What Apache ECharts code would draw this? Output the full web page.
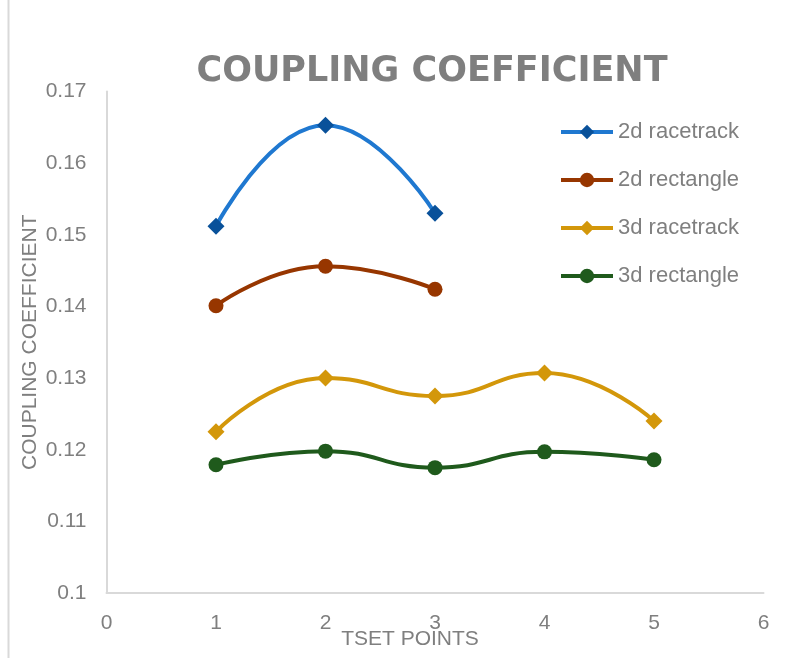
<!DOCTYPE html>
<html>
<head>
<meta charset="utf-8">
<script src="https://cdn.jsdelivr.net/npm/echarts@6/dist/echarts.min.js"></script>
<style>
  html, body { margin: 0; padding: 0; background: #ffffff; }
  #chart { width: 797px; height: 658px; }
</style>
</head>
<body>
<div id="chart"></div>
<script>
// Test point index (x) and measured coupling coefficient per configuration
const testPoints = [1, 2, 3, 4, 5];
const racetrack2d = [0.1512, 0.1653, 0.1530];
const rectangle2d = [0.1401, 0.1456, 0.1424];
const racetrack3d = [0.1225, 0.1300, 0.1275, 0.1307, 0.1240];
const rectangle3d = [0.1179, 0.1198, 0.1175, 0.1197, 0.1186];

const seriesNames = ['2d racetrack', '2d rectangle', '3d racetrack', '3d rectangle'];
const xTicks = [0, 1, 2, 3, 4, 5, 6];
const yTicks = [0.1, 0.11, 0.12, 0.13, 0.14, 0.15, 0.16, 0.17];

const gray = '#7f7f7f';

function pairs(values) {
  return values.map((v, i) => [testPoints[i], v]);
}

function lineSeries(name, values, lineColor, markColor, symbol, size) {
  return {
    name: name,
    type: 'line',
    data: pairs(values),
    smooth: 0.5,
    symbol: symbol,
    symbolSize: size,
    lineStyle: { color: lineColor, width: 4 },
    itemStyle: { color: markColor },
    emphasis: { disabled: true }
  };
}

const chart = echarts.init(document.getElementById('chart'));
chart.setOption({
  animation: false,
  backgroundColor: '#ffffff',
  title: {
    text: 'COUPLING COEFFICIENT',
    left: 427,
    top: 49,
    textAlign: 'center',
    textStyle: {
      fontFamily: 'DejaVu Sans',
      fontWeight: 'bold',
      fontSize: 35,
      color: gray
    }
  },
  legend: {
    orient: 'vertical',
    left: 559,
    top: 121,
    padding: 0,
    itemWidth: 52,
    itemHeight: 18,
    itemGap: 26,
    data: seriesNames,
    lineStyle: { width: 4 },
    textStyle: {
      fontFamily: 'Liberation Sans',
      fontSize: 22,
      lineHeight: 22,
      color: gray
    }
  },
  grid: {
    left: 106.5,
    right: 33.5,
    top: 91.5,
    bottom: 65,
    containLabel: false,
    outerBoundsMode: 'none'
  },
  xAxis: {
    type: 'value',
    min: xTicks[0],
    max: xTicks[xTicks.length - 1],
    interval: 1,
    name: 'TSET POINTS',
    nameLocation: 'middle',
    nameGap: 36,
    nameMoveOverlap: false,
    nameTextStyle: {
      fontFamily: 'Liberation Sans',
      fontSize: 21,
      color: gray,
      padding: [0, 50, 0, 0]
    },
    axisLine: { show: true, lineStyle: { color: '#d9d9d9', width: 2 } },
    axisTick: { show: false },
    splitLine: { show: false },
    axisLabel: {
      margin: 20,
      fontFamily: 'Liberation Sans',
      fontSize: 21,
      color: gray
    }
  },
  yAxis: {
    type: 'value',
    min: yTicks[0],
    max: yTicks[yTicks.length - 1],
    interval: 0.01,
    name: 'COUPLING COEFFICIENT',
    nameLocation: 'middle',
    nameGap: 66,
    nameMoveOverlap: false,
    nameRotate: 90,
    nameTextStyle: {
      fontFamily: 'Liberation Sans',
      fontSize: 21,
      color: gray
    },
    axisLine: { show: true, lineStyle: { color: '#d9d9d9', width: 2 } },
    axisTick: { show: false },
    splitLine: { show: false },
    axisLabel: {
      margin: 20,
      fontFamily: 'Liberation Sans',
      fontSize: 21,
      color: gray,
      formatter: v => String(Math.round(v * 100) / 100)
    }
  },
  graphic: [{
    type: 'line',
    shape: { x1: 8.5, y1: 0, x2: 8.5, y2: 658 },
    style: { stroke: '#d9d9d9', lineWidth: 2 },
    silent: true
  }],
  series: [
    lineSeries(seriesNames[0], racetrack2d, '#1f78d0', '#09519a', 'diamond', 17),
    lineSeries(seriesNames[1], rectangle2d, '#973600', '#973600', 'circle', 15),
    lineSeries(seriesNames[2], racetrack3d, '#d3970a', '#d3970a', 'diamond', 17),
    lineSeries(seriesNames[3], rectangle3d, '#1f5a1c', '#1f5a1c', 'circle', 15)
  ]
});
</script>
</body>
</html>
